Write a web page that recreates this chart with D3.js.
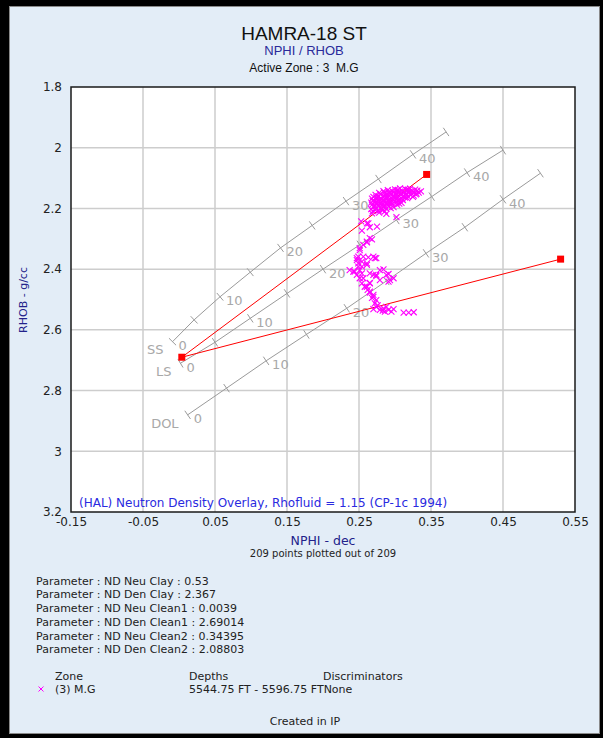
<!DOCTYPE html>
<html><head><meta charset="utf-8">
<script src="https://cdn.jsdelivr.net/npm/d3@7"></script>
<style>body{margin:0;background:#000}svg{display:block}text{white-space:pre}</style>
</head><body><svg id="c" width="603" height="738"></svg>
<script>
// ---------- data ----------
const xTicks = [-0.15, -0.05, 0.05, 0.15, 0.25, 0.35, 0.45, 0.55];
const xTickLabels = ["-0.15", "-0.05", "0.05", "0.15", "0.25", "0.35", "0.45", "0.55"];
const yTicks = [1.8, 2, 2.2, 2.4, 2.6, 2.8, 3, 3.2];
const yTickLabels = ["1.8", "2", "2.2", "2.4", "2.6", "2.8", "3", "3.2"];

const porosity = [0, 5, 10, 15, 20, 25, 30, 35, 40, 45];
const labelledPorosity = [0, 10, 20, 30, 40];
const ssNphi = [-0.009, 0.021, 0.057, 0.099, 0.141, 0.185, 0.232, 0.277, 0.325, 0.371];
const ssRhob = [2.639, 2.567, 2.491, 2.410, 2.330, 2.256, 2.176, 2.103, 2.022, 1.948];
const lsNphi = [0.002, 0.050, 0.099, 0.150, 0.200, 0.251, 0.302, 0.351, 0.400, 0.450];
const lsRhob = [2.710, 2.641, 2.562, 2.480, 2.400, 2.320, 2.238, 2.161, 2.082, 2.008];
const dolNphi = [0.012, 0.066, 0.121, 0.177, 0.233, 0.288, 0.343, 0.397, 0.450, 0.502];
const dolRhob = [2.880, 2.792, 2.702, 2.615, 2.529, 2.439, 2.348, 2.262, 2.170, 2.084];
const lithoNames = ["SS", "LS", "DOL"];

const clean1 = [0.0039, 2.69014];
const clean2 = [0.34395, 2.08803];
const clay = [0.53, 2.367];

const parameterLines = [
  "Parameter : ND Neu Clay : 0.53",
  "Parameter : ND Den Clay : 2.367",
  "Parameter : ND Neu Clean1 : 0.0039",
  "Parameter : ND Den Clean1 : 2.69014",
  "Parameter : ND Neu Clean2 : 0.34395",
  "Parameter : ND Den Clean2 : 2.08803"
];

// zone M.G points [NPHI, RHOB]
const clusterPoints = [
  [0.300,2.137],[0.307,2.134],[0.314,2.136],[0.321,2.135],[0.328,2.138],
  [0.284,2.143],[0.290,2.140],[0.296,2.142],[0.303,2.141],[0.310,2.143],[0.317,2.140],[0.324,2.142],[0.331,2.141],[0.336,2.144],
  [0.278,2.149],[0.285,2.147],[0.292,2.150],[0.298,2.148],[0.305,2.147],[0.312,2.149],[0.319,2.147],[0.326,2.149],[0.333,2.148],
  [0.273,2.155],[0.280,2.153],[0.287,2.156],[0.294,2.154],[0.301,2.153],[0.308,2.155],[0.315,2.154],[0.322,2.156],[0.329,2.154],
  [0.270,2.162],[0.277,2.160],[0.283,2.162],[0.290,2.161],[0.297,2.160],[0.304,2.162],[0.311,2.161],[0.318,2.160],[0.325,2.162],
  [0.268,2.168],[0.275,2.167],[0.282,2.169],[0.289,2.166],[0.296,2.168],[0.303,2.167],[0.310,2.169],[0.317,2.166],
  [0.269,2.175],[0.276,2.173],[0.283,2.175],[0.290,2.174],[0.297,2.173],[0.304,2.175],[0.311,2.173],
  [0.267,2.181],[0.274,2.180],[0.281,2.182],[0.288,2.180],[0.295,2.181],[0.302,2.179],[0.309,2.182],
  [0.268,2.188],[0.275,2.186],[0.282,2.188],[0.289,2.187],[0.296,2.186],[0.303,2.188],
  [0.270,2.195],[0.277,2.193],[0.284,2.195],[0.291,2.194],[0.298,2.196],
  [0.267,2.202],[0.274,2.200],[0.281,2.203],[0.288,2.201],
  [0.269,2.209],[0.277,2.207],[0.286,2.210],
  [0.268,2.216],[0.278,2.214],
  [0.288,2.218],[0.302,2.229],
  [0.304,2.139],[0.318,2.138],[0.293,2.145],[0.307,2.145],[0.321,2.144],[0.289,2.151],[0.303,2.151],[0.316,2.151],
  [0.330,2.151],[0.284,2.158],[0.298,2.157],[0.312,2.158],[0.326,2.158],[0.274,2.164],[0.287,2.164],[0.300,2.164],
  [0.314,2.164],[0.279,2.171],[0.293,2.171],[0.307,2.171],[0.272,2.177],[0.286,2.177],[0.300,2.177],[0.278,2.184],
  [0.292,2.184],[0.306,2.184],[0.272,2.191],[0.286,2.191],[0.280,2.198],[0.294,2.199],[0.272,2.205],[0.283,2.206]
];
const columnPoints = [
  [0.261,2.249],[0.265,2.262],[0.275,2.260],[0.254,2.273],[0.253,2.243],[0.263,2.249],
  [0.256,2.320],[0.261,2.309],[0.268,2.302],[0.251,2.331],[0.247,2.364],[0.256,2.359],[0.263,2.361],[0.272,2.364],
  [0.249,2.381],[0.254,2.392],[0.261,2.386],[0.237,2.403],[0.244,2.408],[0.254,2.414],[0.265,2.414],[0.279,2.403],
  [0.274,2.423],[0.288,2.419],[0.293,2.436],[0.298,2.430],[0.256,2.430],[0.254,2.447],[0.265,2.447],[0.258,2.458],
  [0.265,2.477],[0.270,2.491],
  [0.265,2.298],[0.261,2.312],[0.251,2.337],[0.249,2.359],[0.247,2.370],[0.254,2.375],[0.261,2.381],[0.270,2.359],
  [0.274,2.364],[0.249,2.392],[0.251,2.403],[0.242,2.408],[0.247,2.419],[0.251,2.430],[0.270,2.419],[0.274,2.419],
  [0.284,2.401],[0.291,2.416],[0.291,2.441],[0.279,2.436],[0.265,2.445],[0.261,2.458]
];
const bottomPoints = [
  [0.265,2.474],[0.270,2.485],[0.274,2.502],[0.272,2.513],[0.274,2.524],[0.279,2.534],[0.284,2.529],[0.291,2.534],
  [0.298,2.532],[0.312,2.543],[0.319,2.543],[0.326,2.542],[0.288,2.524],[0.270,2.532],[0.286,2.540],[0.295,2.540],
  [0.276,2.519],[0.283,2.537],[0.262,2.468],[0.268,2.495]
];

// ---------- drawing ----------
const svg = d3.select("#c");
const W = 603, H = 738;
const plot = {left: 71, right: 575, top: 87, bottom: 512};
const x = d3.scaleLinear().domain([-0.15, 0.55]).range([plot.left, plot.right]);
const y = d3.scaleLinear().domain([1.8, 3.2]).range([plot.top, plot.bottom]);
const sans = "DejaVu Sans, Verdana, sans-serif";
const arial = "Liberation Sans, Arial, sans-serif";

svg.append("rect").attr("width", W).attr("height", H).attr("fill", "#000");
svg.append("rect").attr("x", 9.5).attr("y", 6.5).attr("width", 590).attr("height", 727)
  .attr("fill", "#e3edf7").attr("stroke", "#8a8a8a").attr("stroke-width", 1);

// titles
svg.append("text").attr("x", 304).attr("y", 40).attr("text-anchor", "middle")
  .attr("font-family", arial).attr("font-size", 19).attr("fill", "#111").text("HAMRA-18 ST");
svg.append("text").attr("x", 304).attr("y", 55).attr("text-anchor", "middle")
  .attr("font-family", arial).attr("font-size", 13).attr("fill", "#2a2a9a").text("NPHI / RHOB");
svg.append("text").attr("x", 304).attr("y", 72).attr("text-anchor", "middle")
  .attr("font-family", arial).attr("font-size", 12).attr("fill", "#111").text("Active Zone : 3  M.G");

// plot background
svg.append("rect").attr("x", plot.left).attr("y", plot.top)
  .attr("width", plot.right - plot.left).attr("height", plot.bottom - plot.top).attr("fill", "#fff");

// grid
const grid = svg.append("g").attr("stroke", "#cdcdcd").attr("stroke-width", 1.5);
grid.selectAll("line.v").data(xTicks.slice(1, -1)).join("line")
  .attr("x1", d => x(d)).attr("x2", d => x(d)).attr("y1", plot.top).attr("y2", plot.bottom);
grid.selectAll("line.h").data(yTicks.slice(1, -1)).join("line")
  .attr("y1", d => y(d)).attr("y2", d => y(d)).attr("x1", plot.left).attr("x2", plot.right);

// axes labels
const yAxis = d3.axisLeft(y).tickValues(yTicks).tickFormat((d, i) => yTickLabels[i]).tickSize(0).tickPadding(9);
const gy = svg.append("g").attr("transform", `translate(${plot.left},0)`).call(yAxis);
gy.select(".domain").remove();
gy.selectAll("text").attr("font-family", sans).attr("font-size", 12).attr("fill", "#222");

const xAxis = d3.axisBottom(x).tickValues(xTicks).tickFormat((d, i) => xTickLabels[i]).tickSize(0).tickPadding(5);
const gx = svg.append("g").attr("transform", `translate(0,${plot.bottom})`).call(xAxis);
gx.select(".domain").remove();
gx.selectAll("text").attr("font-family", sans).attr("font-size", 12).attr("fill", "#222");

svg.append("text").attr("transform", "translate(27,300) rotate(-90)").attr("text-anchor", "middle")
  .attr("font-family", sans).attr("font-size", 11).attr("fill", "#22228a").text("RHOB - g/cc");
svg.append("text").attr("x", 323).attr("y", 545).attr("text-anchor", "middle")
  .attr("font-family", sans).attr("font-size", 12.5).attr("fill", "#22228a").text("NPHI - dec");
svg.append("text").attr("x", 323).attr("y", 557).attr("text-anchor", "middle")
  .attr("font-family", sans).attr("font-size", 10).attr("fill", "#222").text("209 points plotted out of 209");

// clip for plot contents
svg.append("clipPath").attr("id", "clip").append("rect")
  .attr("x", plot.left).attr("y", plot.top).attr("width", plot.right - plot.left).attr("height", plot.bottom - plot.top);
const pg = svg.append("g").attr("clip-path", "url(#clip)");

// lithology lines
const lithos = [
  {name: lithoNames[0], nphi: ssNphi, rhob: ssRhob},
  {name: lithoNames[1], nphi: lsNphi, rhob: lsRhob},
  {name: lithoNames[2], nphi: dolNphi, rhob: dolRhob}
];
const gray = "#9a9a9a";
const line = d3.line().x(d => x(d[0])).y(d => y(d[1]));
lithos.forEach(L => {
  const pts = L.nphi.map((v, i) => [v, L.rhob[i]]);
  pg.append("path").attr("d", line(pts)).attr("fill", "none").attr("stroke", gray).attr("stroke-width", 1);
  pts.forEach((p, i) => {
    const a = pts[Math.max(0, i - 1)], b = pts[Math.min(pts.length - 1, i + 1)];
    let dx = x(b[0]) - x(a[0]), dy = y(b[1]) - y(a[1]);
    const len = Math.hypot(dx, dy); dx /= len; dy /= len;
    const nx = -dy, ny = dx, px = x(p[0]), py = y(p[1]);
    pg.append("line").attr("x1", px - nx * 5).attr("y1", py - ny * 5).attr("x2", px + nx * 5).attr("y2", py + ny * 5)
      .attr("stroke", gray).attr("stroke-width", 1);
    if (labelledPorosity.includes(porosity[i])) {
      pg.append("text").attr("x", px + 6).attr("y", py + 8.5).attr("font-family", sans).attr("font-size", 13)
        .attr("fill", "#a8a8a8").text(porosity[i]);
    }
  });
  pg.append("text").attr("x", x(pts[0][0]) - 9).attr("y", y(pts[0][1]) + 12.7).attr("text-anchor", "end")
    .attr("font-family", sans).attr("font-size", 13).attr("fill", "#a8a8a8").text(L.name);
});

// annotation
pg.append("text").attr("x", 79).attr("y", 507).attr("font-family", sans).attr("font-size", 12)
  .attr("fill", "#2a2ae0").text("(HAL) Neutron Density Overlay, Rhofluid = 1.15 (CP-1c 1994)");

// red overlay lines
[[clean1, clean2], [clean1, clay]].forEach(seg => {
  pg.append("path").attr("d", line(seg)).attr("fill", "none").attr("stroke", "#ff0000").attr("stroke-width", 1);
});

// scatter
const allPoints = clusterPoints.concat(columnPoints, bottomPoints);
const xMark = "M-3,-3L3,3M-3,3L3,-3";
pg.selectAll("path.pt").data(allPoints).join("path").attr("class", "pt")
  .attr("transform", d => `translate(${x(d[0])},${y(d[1])})`).attr("d", xMark)
  .attr("stroke", "#ff00ff").attr("stroke-width", 1.1).attr("fill", "none");

// endpoint squares
pg.selectAll("rect.ep").data([clean1, clean2, clay]).join("rect").attr("class", "ep")
  .attr("x", d => x(d[0]) - 3.5).attr("y", d => y(d[1]) - 3.5).attr("width", 7).attr("height", 7).attr("fill", "#ff0000");

// plot border
svg.append("rect").attr("x", plot.left).attr("y", plot.top)
  .attr("width", plot.right - plot.left).attr("height", plot.bottom - plot.top)
  .attr("fill", "none").attr("stroke", "#1a1a1a").attr("stroke-width", 1.5);

// parameters
svg.append("g").selectAll("text").data(parameterLines).join("text")
  .attr("x", 36).attr("y", (d, i) => 584.7 + i * 13.7)
  .attr("font-family", sans).attr("font-size", 11).attr("fill", "#222").text(d => d);

// zone legend
const lg = svg.append("g").attr("font-family", sans).attr("font-size", 11).attr("fill", "#222");
lg.append("text").attr("x", 55).attr("y", 679.5).text("Zone");
lg.append("text").attr("x", 189).attr("y", 679.5).text("Depths");
lg.append("text").attr("x", 323).attr("y", 679.5).text("Discriminators");
lg.append("path").attr("transform", "translate(41,689)").attr("d", "M-2.5,-2.5L2.5,2.5M-2.5,2.5L2.5,-2.5")
  .attr("stroke", "#ff00ff").attr("stroke-width", 1).attr("fill", "none");
lg.append("text").attr("x", 55).attr("y", 692.5).text("(3) M.G");
lg.append("text").attr("x", 189).attr("y", 692.5).text("5544.75 FT - 5596.75 FTNone");

svg.append("text").attr("x", 305).attr("y", 724.5).attr("text-anchor", "middle")
  .attr("font-family", sans).attr("font-size", 11).attr("fill", "#222").text("Created in IP");
</script>
</body></html>
